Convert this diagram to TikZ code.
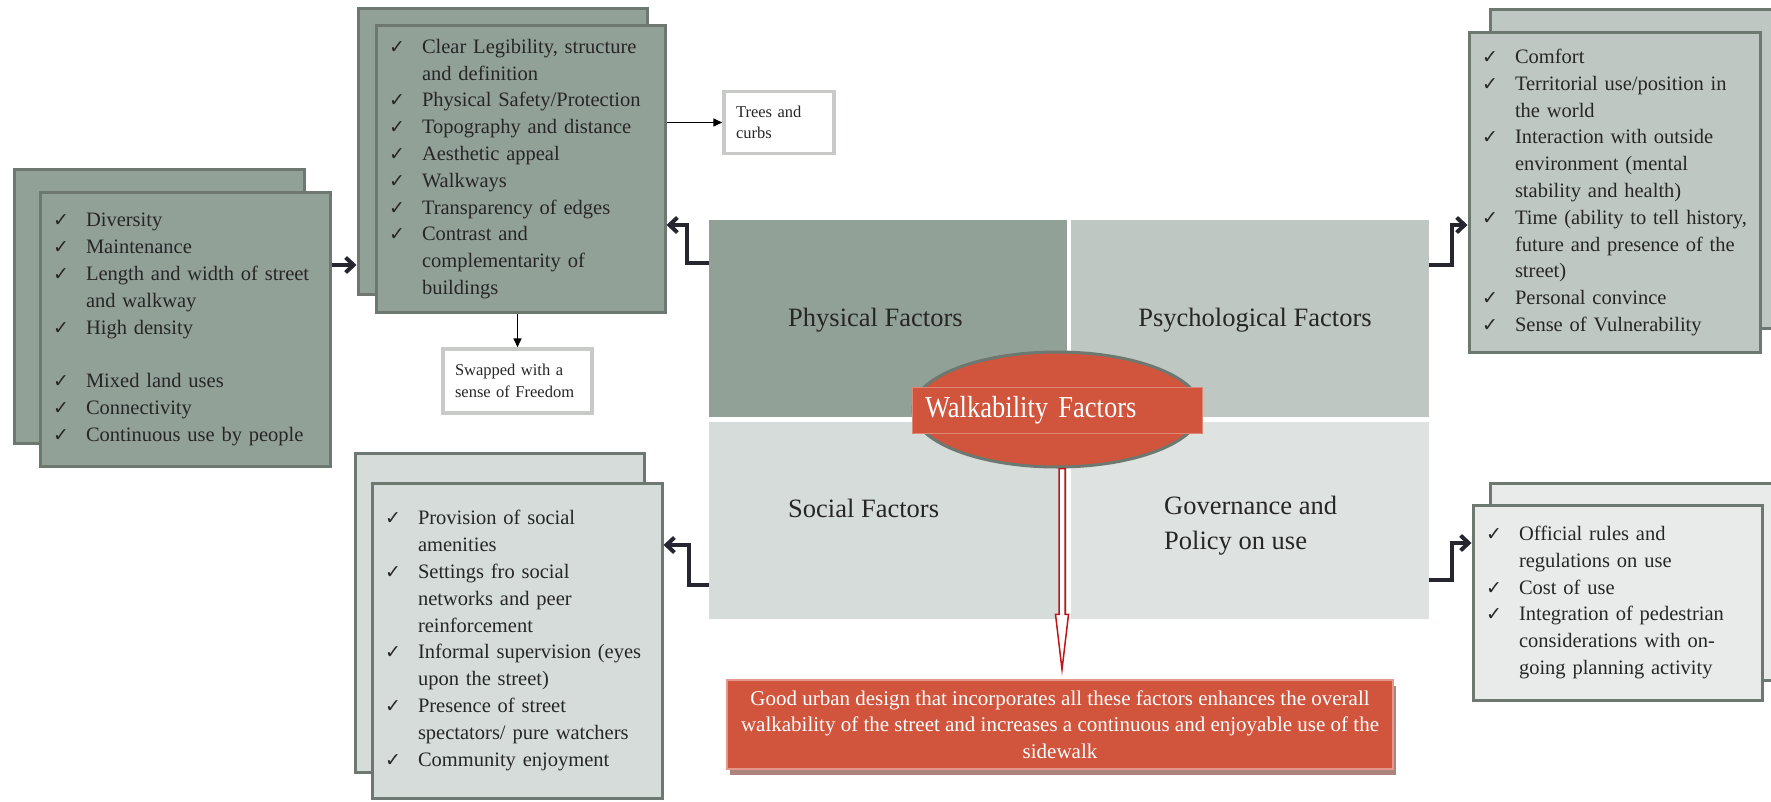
\documentclass[tikz,border=0pt]{standalone}
\usepackage{fontspec}
\setmainfont{Liberation Serif}
\newfontfamily\checkfont{DejaVu Sans}
\newfontfamily\narrowfont{Liberation Serif}[FakeStretch=0.87]
\usetikzlibrary{arrows.meta,positioning,calc,shapes.geometric,shadows}
\definecolor{physgreen}{RGB}{146,161,152}
\definecolor{psychgray}{RGB}{190,199,193}
\definecolor{socgray}{RGB}{214,220,217}
\definecolor{govgray}{RGB}{222,226,224}
\definecolor{govcard}{RGB}{233,235,234}
\definecolor{cardline}{RGB}{108,120,112}
\definecolor{walkred}{RGB}{209,84,61}
\definecolor{arrowred}{RGB}{192,20,24}
\definecolor{inkdark}{RGB}{38,38,48}
\definecolor{textdark}{RGB}{38,38,38}
\definecolor{notegray}{RGB}{200,202,200}
\definecolor{shadowbrown}{RGB}{172,132,126}
\newcommand{\ck}{\makebox[36pt][l]{\hspace*{3pt}\checkfont\fontsize{19pt}{19pt}\selectfont ✓}}
\newcommand{\ind}{\hspace*{36pt}}
\tikzset{
  >=Latex,
  quad/.style={rectangle, inner sep=0pt, minimum width=358pt, minimum height=197pt},
  quadtext/.style={font=\fontsize{26.5pt}{35pt}\selectfont, text=textdark, align=left, inner sep=0pt},
  card/.style={rectangle, draw=cardline, line width=3pt, inner sep=0pt},
  cardtext/.style={card, align=left, inner xsep=10pt, inner ysep=0pt, text=textdark,
    font=\fontsize{20.5pt}{26.8pt}\selectfont},
  note/.style={rectangle, draw=notegray, line width=3.5pt, fill=white, align=left,
    inner xsep=12pt, inner ysep=0pt, text=textdark, font=\fontsize{16.5pt}{21.5pt}\selectfont},
  elbow/.style={-{Straight Barb[length=8pt,width=15pt]}, line width=4pt, draw=inkdark},
  thinarrow/.style={-{Triangle[length=9pt,width=8pt]}, line width=1.6pt, draw=black},
}
\begin{document}
\begin{tikzpicture}[x=1pt, y=-1pt]
\clip (0,0) rectangle (1771,802);
% --- Central quadrants ---
\node[quad, fill=physgreen] (physq) at (888,318.5) {};
\node[quad, fill=psychgray] (psyq) at (1250,318.5) {};
\node[quad, fill=socgray] (socq) at (888,520) {};
\node[quad, fill=govgray] (govq) at (1250,520) {};
\node[quadtext, anchor=west] (physlab) at (788,320) {Physical Factors};
\node[quadtext] (psylab) at (1255,320) {Psychological Factors};
\node[quadtext, anchor=west] (soclab) at (788,508) {Social Factors};
\node[quadtext, anchor=west] (govlab) at (1164,525.5) {Governance and\\Policy on use};
% --- Walkability ellipse ---
\node[ellipse, draw=cardline, line width=3pt, fill=walkred, inner sep=0pt,
  minimum width=288pt, minimum height=115pt] (walkell) at (1057,409.5) {};
\node[rectangle, fill=walkred, draw=walkred!70!white, line width=1pt,
  minimum width=290pt, minimum height=46pt, text width=264pt, inner xsep=13pt,
  align=left, text=white, font=\narrowfont\fontsize{30.5pt}{32pt}\selectfont] (walk) at (1057,410) {Walkability Factors};
% --- Summary box ---
\node[rectangle, fill=walkred, draw=walkred!60!white, line width=1.2pt,
  drop shadow={fill=shadowbrown, opacity=1, shadow xshift=3pt, shadow yshift=-6pt},
  minimum width=666pt, minimum height=89pt, inner sep=0pt, align=center, text=white,
  font=\fontsize{21pt}{26.5pt}\selectfont] (summary) at (1060,724.5)
  {Good urban design that incorporates all these factors enhances the overall\\
   walkability of the street and increases a continuous and enjoyable use of the\\
   sidewalk};
% hollow red arrow down to the summary
\coordinate (ra) at ($(walkell.south)+(5,0)$);
\coordinate (rb) at ($(ra |- summary.north)+(0,-10)$);
\coordinate (rh) at ($(rb)+(0,-55)$);
\draw[draw=arrowred, line width=1.5pt, fill=white]
  ($(ra)+(-3,0)$) -- ($(rh)+(-3,0)$) -- ($(rh)+(-6.5,0)$) -- (rb)
  -- ($(rh)+(6.5,0)$) -- ($(rh)+(3,0)$) -- ($(ra)+(3,0)$) -- cycle;
% --- Left list ---
\node[card, fill=physgreen, minimum width=290pt, minimum height=273pt] (leftb) at (159,306.5) {};
\node[cardtext, fill=physgreen, text width=270pt, minimum height=273pt] (leftl) at (185,329.5) {
  \ck Diversity\\
  \ck Maintenance\\
  \ck Length and width of street\\
  \ind and walkway\\
  \ck High density\\[26.8pt]
  \ck Mixed land uses\\
  \ck Connectivity\\
  \ck Continuous use by people};
% --- Physical list ---
\node[card, fill=physgreen, minimum width=289pt, minimum height=285pt] (physb) at (502.5,151.5) {};
\node[cardtext, fill=physgreen, text width=269pt, minimum height=286pt] (physl) at (520.5,169) {
  \ck Clear Legibility, structure\\
  \ind and definition\\
  \ck Physical Safety/Protection\\
  \ck Topography and distance\\
  \ck Aesthetic appeal\\
  \ck Walkways\\
  \ck Transparency of edges\\
  \ck Contrast and\\
  \ind complementarity of\\
  \ind buildings};
% --- Psychological list ---
\node[card, fill=psychgray, minimum width=300pt, minimum height=318pt] (psyb) at (1640,169) {};
\node[cardtext, fill=psychgray, text width=271pt, minimum height=319pt] (psyl) at (1614.5,192.5) {
  \ck Comfort\\
  \ck Territorial use/position in\\
  \ind the world\\
  \ck Interaction with outside\\
  \ind environment (mental\\
  \ind stability and health)\\
  \ck Time (ability to tell history,\\
  \ind future and presence of the\\
  \ind street)\\
  \ck Personal convince\\
  \ck Sense of Vulnerability};
% --- Social list ---
\node[card, fill=socgray, minimum width=289pt, minimum height=319pt] (socb) at (499.5,612.5) {};
\node[cardtext, fill=socgray, text width=270pt, minimum height=315pt] (socl) at (517,640.5) {
  \ck Provision of social\\
  \ind amenities\\
  \ck Settings fro social\\
  \ind networks and peer\\
  \ind reinforcement\\
  \ck Informal supervision (eyes\\
  \ind upon the street)\\
  \ck Presence of street\\
  \ind spectators/ pure watchers\\
  \ck Community enjoyment};
% --- Governance list ---
\node[card, fill=govcard, minimum width=300pt, minimum height=197pt] (govb) at (1640,581.5) {};
\node[cardtext, fill=govcard, text width=269pt, minimum height=195pt] (govl) at (1617.5,602.5) {
  \ck Official rules and\\
  \ind regulations on use\\
  \ck Cost of use\\
  \ck Integration of pedestrian\\
  \ind considerations with on-\\
  \ind going planning activity};
% --- Notes ---
\node[note, minimum width=110pt, minimum height=62pt, text width=86pt] (trees) at (779,122.5) {Trees and\\curbs};
\node[note, minimum width=149pt, minimum height=64pt, text width=125pt] (swap) at (517.5,381) {Swapped with a\\sense of Freedom};
% --- Arrows ---
\draw[elbow] ([yshift=64.5pt]leftl.east) -- ([yshift=64.5pt]leftl.east -| physb.west);
\draw[elbow] ([yshift=55.5pt]physq.west) -- ++(-22,0) |- ([yshift=-56pt]physl.east);
\draw[elbow] ([yshift=53.5pt]psyq.east) -- ++(23,0) |- ([yshift=-32.5pt]psyl.west);
\draw[elbow] ([yshift=-65pt]socq.west) -- ++(-20,0) |- ([yshift=95.5pt]socl.east);
\draw[elbow] ([yshift=-60pt]govq.east) -- ++(23,0) |- ([yshift=59.5pt]govl.west);
\draw[thinarrow] ([yshift=46.5pt]physl.east) -- (trees.west);
\draw[thinarrow] (physl.south -| swap.north) -- (swap.north);
\end{tikzpicture}
\end{document}
